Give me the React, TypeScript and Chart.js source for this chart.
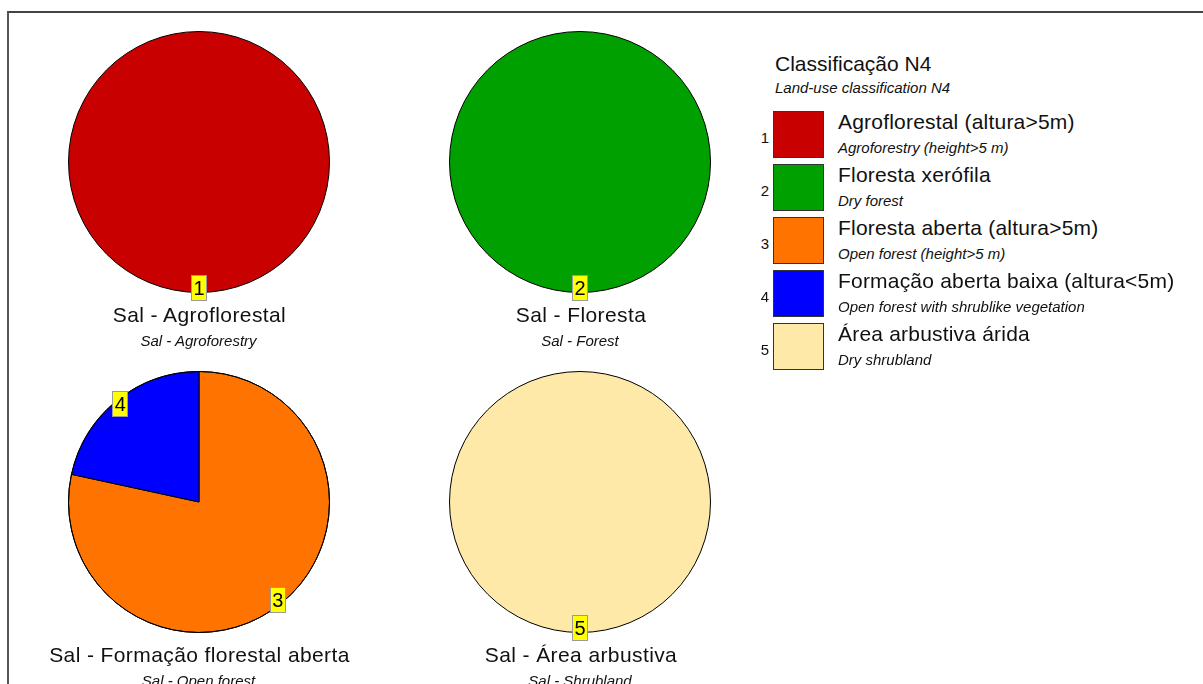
import React, { useEffect, useRef } from "react";
import { Chart, registerables } from "chart.js";

Chart.register(...registerables);

// ---- data ----
const classNumbers = ["1", "2", "3", "4", "5"];
const classNamesPt = [
  "Agroflorestal (altura>5m)",
  "Floresta xerófila",
  "Floresta aberta (altura>5m)",
  "Formação aberta baixa (altura<5m)",
  "Área arbustiva árida",
];
const classNamesEn = [
  "Agroforestry (height>5 m)",
  "Dry forest",
  "Open forest (height>5 m)",
  "Open forest with shrublike vegetation",
  "Dry shrubland",
];
const classColors = ["#C80000", "#00A000", "#FF7300", "#0000FF", "#FFE9A8"];

const legendTitlePt = "Classificação N4";
const legendTitleEn = "Land-use classification N4";

const pieTitlesPt = [
  "Sal - Agroflorestal",
  "Sal - Floresta",
  "Sal - Formação florestal aberta",
  "Sal - Área arbustiva",
];
const pieTitlesEn = ["Sal - Agroforestry", "Sal - Forest", "Sal - Open forest", "Sal - Shrubland"];
const pieClasses = [[0], [1], [2, 3], [4]];
const pieValues = [[100], [100], [78.4, 21.6], [100]];

// ---- layout ----
const PIE_CENTERS = [
  [198.5, 162],
  [580, 162],
  [198.5, 502],
  [580, 502],
];
const RADIUS = 130.5;
const CANVAS = 280;
const FONT = '"Liberation Sans", Arial, sans-serif';

const sliceLabelPlugin = {
  id: "sliceLabels",
  afterDatasetsDraw(chart: any) {
    const ctx = chart.ctx;
    const meta = chart.getDatasetMeta(0);
    // outer outline of the pie
    if (meta.data.length) {
      const p0 = meta.data[0].getProps(["x", "y", "outerRadius"], true);
      ctx.save();
      ctx.beginPath();
      ctx.arc(p0.x, p0.y, p0.outerRadius, 0, Math.PI * 2);
      ctx.strokeStyle = "#000";
      ctx.lineWidth = 1;
      ctx.stroke();
      ctx.restore();
    }
    meta.data.forEach((arc: any, i: number) => {
      const p = arc.getProps(["x", "y", "startAngle", "endAngle", "outerRadius"], true);
      const mid = (p.startAngle + p.endAngle) / 2;
      const r = p.outerRadius - 5;
      const cx = p.x + Math.cos(mid) * r;
      const cy = p.y + Math.sin(mid) * r;
      const w = 16;
      const h = 26;
      ctx.save();
      ctx.fillStyle = "#FFFF00";
      ctx.fillRect(Math.round(cx - w / 2), Math.round(cy - h / 2), w, h);
      ctx.strokeStyle = "#9a9a9a";
      ctx.lineWidth = 1;
      ctx.strokeRect(Math.round(cx - w / 2) + 0.5, Math.round(cy - h / 2) + 0.5, w - 1, h - 1);
      ctx.fillStyle = "#000";
      ctx.font = "20px " + FONT;
      ctx.textAlign = "center";
      ctx.textBaseline = "alphabetic";
      ctx.fillText(String(chart.data.labels[i]), cx, cy + 7);
      ctx.restore();
    });
  },
};

function Pie({ idx }: { idx: number }) {
  const ref = useRef<HTMLCanvasElement>(null);
  useEffect(() => {
    if (!ref.current) return;
    const cls = pieClasses[idx];
    const vals = pieValues[idx];
    const chart = new Chart(ref.current, {
      type: "pie",
      data: {
        labels: cls.map((c) => classNumbers[c]),
        datasets: [
          {
            data: vals,
            backgroundColor: cls.map((c) => classColors[c]),
            borderColor: "#000000",
            borderWidth: vals.length > 1 ? 1 : 0,
          },
        ],
      },
      options: {
        responsive: false,
        animation: false,
        devicePixelRatio: 1,
        radius: RADIUS,
        layout: { padding: 0 },
        plugins: {
          legend: { display: false },
          tooltip: { enabled: false },
          title: { display: false },
        },
      } as any,
      plugins: [sliceLabelPlugin],
    });
    return () => chart.destroy();
  }, [idx]);
  const [cx, cy] = PIE_CENTERS[idx];
  return (
    <canvas
      ref={ref}
      width={CANVAS}
      height={CANVAS}
      style={{
        position: "absolute",
        left: cx - CANVAS / 2,
        top: cy - CANVAS / 2,
        width: CANVAS,
        height: CANVAS,
      }}
    />
  );
}

function Text({
  x,
  cy,
  size,
  italic,
  children,
  center,
  spacing,
}: {
  x: number;
  cy: number;
  size: number;
  italic?: boolean;
  children: React.ReactNode;
  center?: boolean;
  spacing?: number;
}) {
  const lh = Math.round(size * 1.3);
  return (
    <div
      style={{
        position: "absolute",
        left: center ? x - 300 : x,
        width: center ? 600 : undefined,
        textAlign: center ? "center" : "left",
        top: cy - lh / 2,
        height: lh,
        lineHeight: lh + "px",
        fontSize: size,
        fontStyle: italic ? "italic" : "normal",
        fontFamily: FONT,
        color: "#111",
        whiteSpace: "nowrap",
        letterSpacing: spacing ? spacing + "px" : undefined,
      }}
    >
      {children}
    </div>
  );
}

export default function App() {
  const legendTop = 111;
  const pitch = 53;
  return (
    <div
      style={{
        position: "absolute",
        left: 0,
        top: 0,
        width: 1203,
        height: 684,
        overflow: "hidden",
        background: "#fff",
      }}
    >
      <div
        style={{
          position: "absolute",
          left: 7,
          top: 11,
          width: 1300,
          height: 800,
          borderTop: "2px solid #444",
          borderLeft: "2px solid #555",
        }}
      />
      {[0, 1, 2, 3].map((i) => (
        <Pie key={i} idx={i} />
      ))}
      {[0, 1, 2, 3].map((i) => {
        const [cx, cy] = PIE_CENTERS[i];
        return (
          <React.Fragment key={"t" + i}>
            <Text x={cx + 1} cy={cy + 152.5} size={21} center spacing={0.4}>
              {pieTitlesPt[i]}
            </Text>
            <Text x={cx} cy={cy + 178.5} size={15} italic center>
              {pieTitlesEn[i]}
            </Text>
          </React.Fragment>
        );
      })}
      <Text x={775} cy={63} size={21}>
        {legendTitlePt}
      </Text>
      <Text x={775} cy={87.5} size={15} italic>
        {legendTitleEn}
      </Text>
      {classNumbers.map((n, i) => {
        const top = legendTop + i * pitch;
        return (
          <React.Fragment key={"l" + i}>
            <div
              style={{
                position: "absolute",
                left: 773,
                top,
                width: 51,
                height: 47,
                boxSizing: "border-box",
                border: "1.5px solid #333",
                background: classColors[i],
              }}
            />
            <div
              style={{
                position: "absolute",
                left: 755,
                width: 20,
                textAlign: "center",
                top: top + 27 - 10,
                height: 20,
                lineHeight: "20px",
                fontSize: 15,
                fontFamily: FONT,
                color: "#111",
              }}
            >
              {n}
            </div>
            <Text x={838} cy={top + 10.7} size={21} spacing={0.2}>
              {classNamesPt[i]}
            </Text>
            <Text x={838} cy={top + 36.5} size={15} italic>
              {classNamesEn[i]}
            </Text>
          </React.Fragment>
        );
      })}
    </div>
  );
}
